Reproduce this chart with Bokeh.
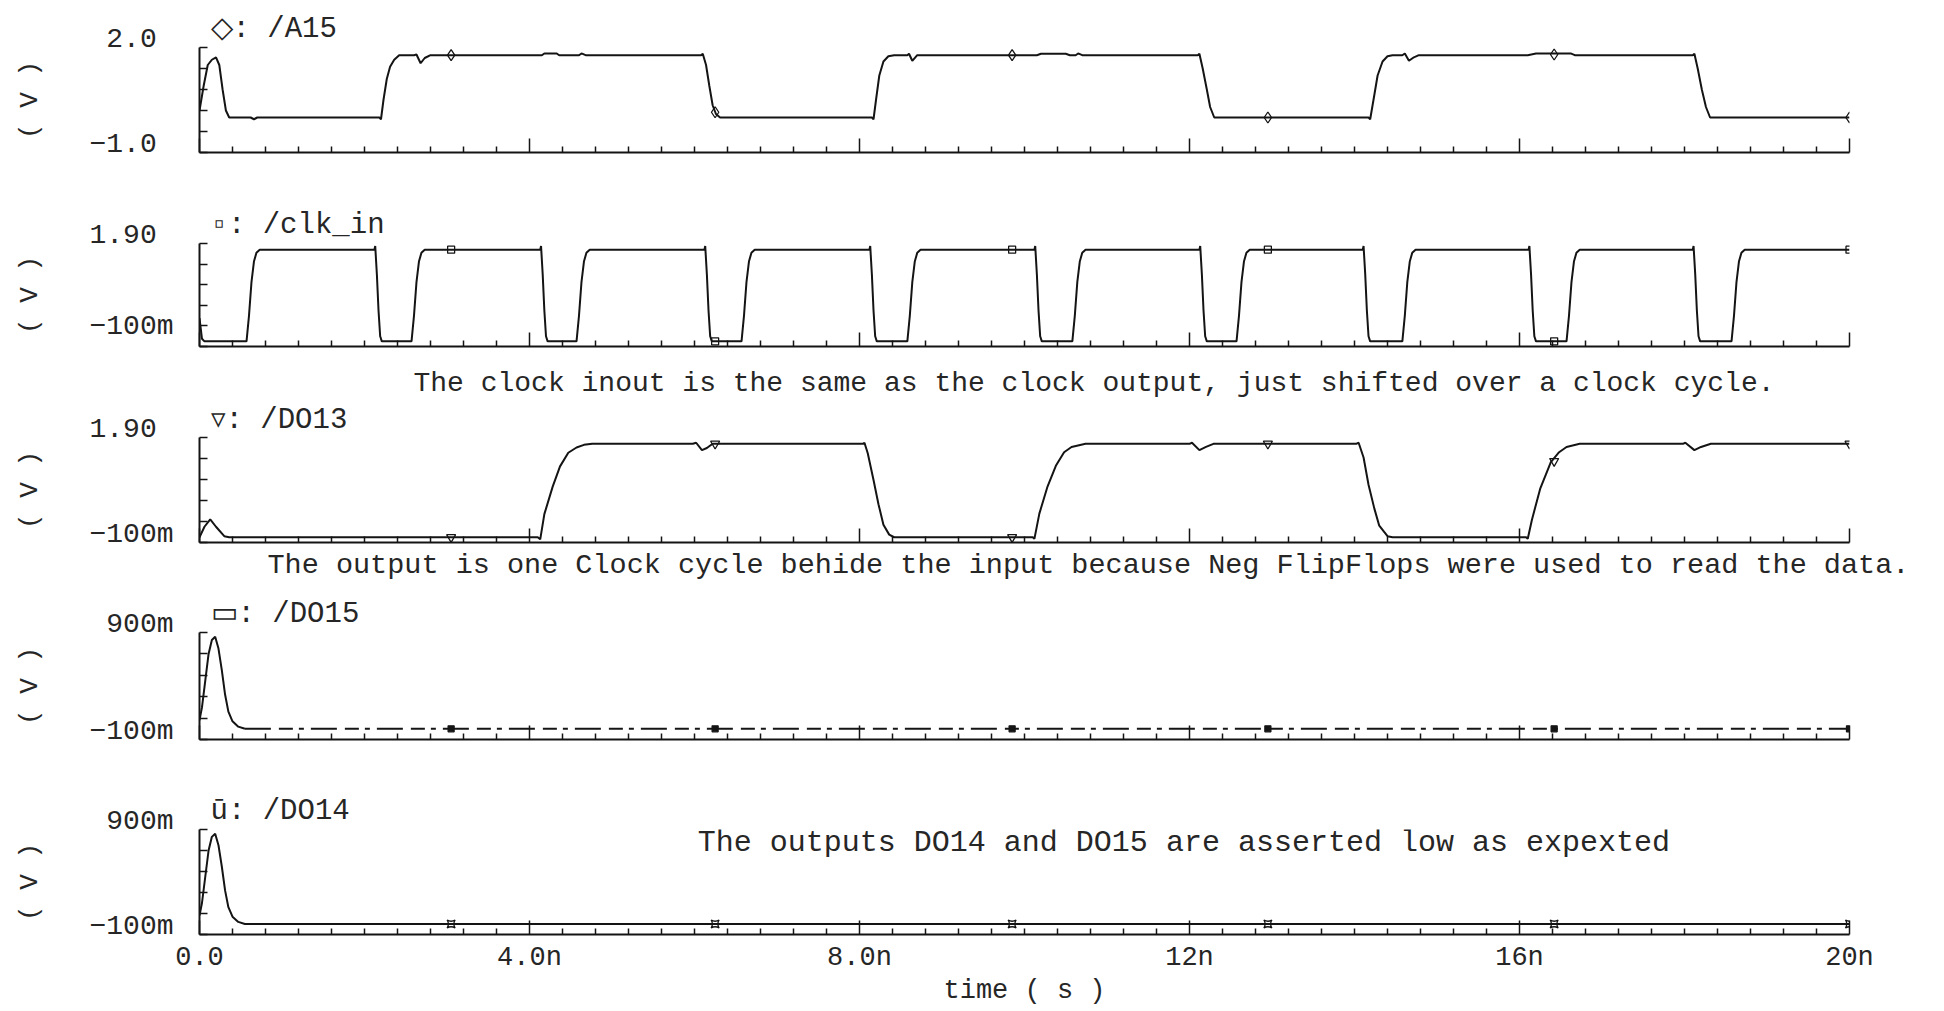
from bokeh.plotting import figure
from bokeh.layouts import column
from bokeh.models import Range1d, FixedTicker, CustomJSTickFormatter, Label, Title
from bokeh.embed import file_html
from bokeh.resources import INLINE

FONT = "Liberation Mono"
INK = "#141414"
TXT = "#262626"

# ---------------- data (time in ns, voltage in V) ----------------
time_ticks = [0, 4, 8, 12, 16, 20]
time_tick_labels = ["0.0", "4.0n", "8.0n", "12n", "16n", "20n"]
time_minor_ticks = [0.4, 0.8, 1.2, 1.6, 2.0, 2.4, 2.8, 3.2, 3.6,
                    4.4, 4.8, 5.2, 5.6, 6.0, 6.4, 6.8, 7.2, 7.6,
                    8.4, 8.8, 9.2, 9.6, 10.0, 10.4, 10.8, 11.2, 11.6,
                    12.4, 12.8, 13.2, 13.6, 14.0, 14.4, 14.8, 15.2, 15.6,
                    16.4, 16.8, 17.2, 17.6, 18.0, 18.4, 18.8, 19.2, 19.6]

marker_t = [3.05, 6.25, 9.85, 12.95, 16.42, 20.0]

a15_t = [0.00, 0.05, 0.10, 0.15, 0.20, 0.24, 0.28, 0.32, 0.36, 0.62, 0.66, 0.70,
         2.18, 2.20, 2.23, 2.27, 2.31, 2.36, 2.42,
         2.60, 2.63, 2.68, 2.73, 2.80,
         4.15, 4.18, 4.33, 4.36, 4.60, 4.63, 4.68,
         6.08, 6.10, 6.14, 6.18, 6.22, 6.26, 6.31,
         8.15, 8.17, 8.20, 8.24, 8.29, 8.35, 8.42,
         8.58, 8.60, 8.64, 8.70,
         10.15, 10.20, 10.50, 10.55, 10.62, 10.65, 10.70,
         12.10, 12.12, 12.16, 12.21, 12.25, 12.30,
         14.17, 14.19, 14.23, 14.28, 14.34, 14.40, 14.46,
         14.58, 14.61, 14.66, 14.72, 14.78,
         16.10, 16.20, 16.62, 16.67,
         18.10, 18.12, 18.16, 18.21, 18.26, 18.31, 20.00]
a15_v = [0.20, 0.90, 1.50, 1.65, 1.72, 1.50, 0.80, 0.20, 0.00, 0.00, -0.05, 0.00,
         0.00, -0.05, 0.50, 1.10, 1.45, 1.65, 1.78,
         1.78, 1.80, 1.55, 1.70, 1.78,
         1.78, 1.83, 1.83, 1.78, 1.78, 1.83, 1.78,
         1.78, 1.82, 1.50, 0.90, 0.35, 0.10, 0.00,
         0.00, -0.05, 0.50, 1.20, 1.60, 1.75, 1.78,
         1.78, 1.82, 1.62, 1.78,
         1.78, 1.82, 1.82, 1.78, 1.78, 1.83, 1.78,
         1.78, 1.82, 1.40, 0.80, 0.30, 0.00,
         0.00, -0.05, 0.50, 1.20, 1.60, 1.75, 1.78,
         1.78, 1.83, 1.62, 1.72, 1.78,
         1.78, 1.83, 1.83, 1.78,
         1.78, 1.82, 1.40, 0.80, 0.30, 0.00, 0.00]
a15_marker_v = [1.78, 0.15, 1.78, 0.00, 1.80, 0.00]

clk_t = [0.00, 0.03, 0.06,
         0.57, 0.60, 0.63, 0.66, 0.69, 0.73,
         2.12, 2.13, 2.15, 2.17, 2.19, 2.21,
         2.57, 2.60, 2.63, 2.66, 2.69, 2.73,
         4.13, 4.14, 4.16, 4.18, 4.20, 4.22,
         4.57, 4.60, 4.63, 4.66, 4.69, 4.73,
         6.12, 6.13, 6.15, 6.17, 6.19, 6.21,
         6.57, 6.60, 6.63, 6.66, 6.69, 6.73,
         8.12, 8.13, 8.15, 8.17, 8.19, 8.21,
         8.58, 8.61, 8.64, 8.67, 8.70, 8.74,
         10.12, 10.13, 10.15, 10.17, 10.19, 10.21,
         10.58, 10.61, 10.64, 10.67, 10.70, 10.74,
         12.12, 12.13, 12.15, 12.17, 12.19, 12.21,
         12.57, 12.60, 12.63, 12.66, 12.69, 12.73,
         14.10, 14.11, 14.13, 14.15, 14.17, 14.19,
         14.58, 14.61, 14.64, 14.67, 14.70, 14.74,
         16.11, 16.12, 16.14, 16.16, 16.18, 16.20,
         16.57, 16.60, 16.63, 16.66, 16.69, 16.73,
         18.10, 18.11, 18.13, 18.15, 18.17, 18.19,
         18.57, 18.60, 18.63, 18.66, 18.69, 18.73,
         20.00]
clk_v = [0.45, 0.05, 0.00,
         0.00, 0.50, 1.15, 1.55, 1.72, 1.78,
         1.78, 1.85, 1.30, 0.60, 0.10, 0.00,
         0.00, 0.50, 1.15, 1.55, 1.72, 1.78,
         1.78, 1.85, 1.30, 0.60, 0.10, 0.00,
         0.00, 0.50, 1.15, 1.55, 1.72, 1.78,
         1.78, 1.85, 1.30, 0.60, 0.10, 0.00,
         0.00, 0.50, 1.15, 1.55, 1.72, 1.78,
         1.78, 1.85, 1.30, 0.60, 0.10, 0.00,
         0.00, 0.50, 1.15, 1.55, 1.72, 1.78,
         1.78, 1.85, 1.30, 0.60, 0.10, 0.00,
         0.00, 0.50, 1.15, 1.55, 1.72, 1.78,
         1.78, 1.85, 1.30, 0.60, 0.10, 0.00,
         0.00, 0.50, 1.15, 1.55, 1.72, 1.78,
         1.78, 1.85, 1.30, 0.60, 0.10, 0.00,
         0.00, 0.50, 1.15, 1.55, 1.72, 1.78,
         1.78, 1.85, 1.30, 0.60, 0.10, 0.00,
         0.00, 0.50, 1.15, 1.55, 1.72, 1.78,
         1.78, 1.85, 1.30, 0.60, 0.10, 0.00,
         0.00, 0.50, 1.15, 1.55, 1.72, 1.78,
         1.78]
clk_marker_v = [1.78, 0.00, 1.78, 1.78, 0.00, 1.78]

do13_t = [0.00, 0.06, 0.13, 0.20, 0.30, 0.36,
          4.10, 4.13, 4.18, 4.28, 4.37, 4.47, 4.57, 4.66, 4.76,
          5.98, 6.02, 6.09, 6.15, 6.22,
          8.04, 8.06, 8.10, 8.17, 8.23, 8.29, 8.36, 8.42,
          10.10, 10.12, 10.18, 10.28, 10.38, 10.48, 10.57, 10.74,
          12.00, 12.03, 12.12, 12.20, 12.29,
          14.02, 14.05, 14.11, 14.17, 14.24, 14.30, 14.40, 14.46,
          16.08, 16.10, 16.15, 16.25, 16.38, 16.48, 16.57, 16.73,
          17.98, 18.01, 18.12, 18.20, 18.32, 20.00]
do13_v = [0.00, 0.20, 0.34, 0.20, 0.02, 0.00,
          0.00, -0.04, 0.44, 0.96, 1.35, 1.61, 1.71, 1.76, 1.78,
          1.78, 1.80, 1.66, 1.70, 1.78,
          1.78, 1.80, 1.60, 1.09, 0.63, 0.24, 0.05, 0.00,
          0.00, -0.03, 0.45, 0.97, 1.36, 1.62, 1.72, 1.78,
          1.78, 1.80, 1.66, 1.72, 1.78,
          1.78, 1.80, 1.52, 1.00, 0.55, 0.22, 0.02, 0.00,
          0.00, -0.03, 0.33, 0.92, 1.43, 1.62, 1.72, 1.78,
          1.78, 1.80, 1.66, 1.72, 1.78, 1.78]
do13_marker_v = [0.00, 1.78, 0.00, 1.78, 1.45, 1.78]

do15_t = [0.00, 0.03, 0.07, 0.11, 0.15, 0.19, 0.23, 0.27, 0.31, 0.35, 0.40, 0.47, 0.55, 20.00]
do15_v = [0.08, 0.20, 0.45, 0.70, 0.83, 0.86, 0.75, 0.55, 0.32, 0.16, 0.07, 0.02, 0.00, 0.00]
do15_marker_v = [0.00, 0.00, 0.00, 0.00, 0.00, 0.00]

do14_t = [0.00, 0.03, 0.07, 0.11, 0.15, 0.19, 0.23, 0.27, 0.31, 0.35, 0.40, 0.47, 0.55, 20.00]
do14_v = [0.08, 0.20, 0.45, 0.70, 0.83, 0.86, 0.75, 0.55, 0.32, 0.16, 0.07, 0.02, 0.00, 0.00]
do14_marker_v = [0.00, 0.00, 0.00, 0.00, 0.00, 0.00]

# value labels at the top / bottom of each voltage axis: (number, unit suffix)
panels = [
    dict(title="◇: /A15", t=a15_t, v=a15_v, mv=a15_marker_v, marker="diamond", msize=11, mfill=None,
         lo=-1.0, hi=2.0, yticks=[-1.0, -0.4, 0.2, 0.8, 1.4, 2.0], top_lab=("2.0", ""), bot_lab=("−1.0", ""),
         h=190, bt=47, bb=38, tso=3),
    dict(title="▫: /clk_in", t=clk_t, v=clk_v, mv=clk_marker_v, marker="square", msize=7, mfill=None,
         lo=-0.1, hi=1.9, yticks=[-0.1, 0.3, 0.7, 1.1, 1.5, 1.9], top_lab=("1.90", ""), bot_lab=("−100", "m"),
         h=167, bt=53, bb=11, tso=3),
    dict(title="▿: /DO13", t=do13_t, v=do13_v, mv=do13_marker_v, marker="inverted_triangle", msize=9, mfill=None,
         lo=-0.1, hi=1.9, yticks=[-0.1, 0.3, 0.7, 1.1, 1.5, 1.9], top_lab=("1.90", ""), bot_lab=("−100", "m"),
         h=233, bt=80, bb=48, tso=2),
    dict(title="▭: /DO15", t=do15_t, v=do15_v, mv=do15_marker_v, marker="square", msize=6, mfill=INK,
         lo=-0.1, hi=0.9, yticks=[-0.1, 0.1, 0.3, 0.5, 0.7, 0.9], top_lab=("900", "m"), bot_lab=("−100", "m"),
         h=195, bt=42, bb=46, tso=3, dashed_after=0.55),
    dict(title="ū: /DO14", t=do14_t, v=do14_v, mv=do14_marker_v, marker="square_pin", msize=8, mfill=None,
         lo=-0.1, hi=0.9, yticks=[-0.1, 0.1, 0.3, 0.5, 0.7, 0.9], top_lab=("900", "m"), bot_lab=("−100", "m"),
         h=225, bt=44, bb=76, tso=3),
]

# notes between panels: (panel index, side, text, pixel offset from time axis start, standoff, font size)
notes = [
    (2, "above", "The clock inout is the same as the clock output, just shifted over a clock cycle.", 214, 4, "28px"),
    (2, "below", "The output is one Clock cycle behide the input because Neg FlipFlops were used to read the data.", 68, 8, "28.5px"),
]
inner_note = (4, "The outputs DO14 and DO15 are asserted low as expexted", 6.04, "30px")

FS = "29px"
NBSP = "\u00a0"
blank = CustomJSTickFormatter(code="return ''")


def value_label(parts):
    num, unit = parts
    # the unit suffix hangs past the numbers' right edge, as on the original
    return num + (unit if unit else NBSP) + "\n"


figs = []
for i, c in enumerate(panels):
    last = (i == len(panels) - 1)
    p = figure(width=1928, height=c["h"], x_range=Range1d(0, 20), y_range=Range1d(c["lo"], c["hi"]),
               output_backend="svg", toolbar_location=None, title=None,
               min_border_left=199, min_border_right=79,
               min_border_top=c["bt"], min_border_bottom=c["bb"])
    p.outline_line_color = None
    p.background_fill_color = "white"
    p.border_fill_color = "white"
    p.grid.visible = False

    # panel title (closest to the frame)
    p.add_layout(Title(text=c["title"], align="left", offset=11, standoff=c["tso"], text_font=FONT,
                       text_font_size=FS, text_font_style="normal", text_color=TXT), "above")

    xa = p.xaxis[0]
    xa.ticker = FixedTicker(ticks=time_ticks, minor_ticks=time_minor_ticks)
    xa.axis_line_width = 2
    xa.axis_line_color = INK
    xa.major_tick_in = 14
    xa.major_tick_out = 0
    xa.minor_tick_in = 6
    xa.minor_tick_out = 0
    xa.major_tick_line_width = 1.5
    xa.minor_tick_line_width = 1.5
    xa.major_tick_line_color = INK
    xa.minor_tick_line_color = INK
    if last:
        xa.major_label_overrides = {tk: lb for tk, lb in zip(time_ticks, time_tick_labels)}
        xa.major_label_text_font = FONT
        xa.major_label_text_font_size = "27px"
        xa.major_label_text_color = TXT
        xa.major_label_standoff = 8
        xa.axis_label = "time ( s )"
        xa.axis_label_text_font = FONT
        xa.axis_label_text_font_size = "27px"
        xa.axis_label_text_font_style = "normal"
        xa.axis_label_text_color = TXT
        xa.axis_label_standoff = 0
    else:
        xa.formatter = blank
        xa.major_label_text_font_size = "1px"
        xa.major_label_standoff = 0

    ya = p.yaxis[0]
    ya.ticker = FixedTicker(ticks=c["yticks"], minor_ticks=[])
    ya.formatter = blank
    ya.major_label_overrides = {c["yticks"][-1]: value_label(c["top_lab"]),
                                c["yticks"][0]: value_label(c["bot_lab"])}
    ya.major_label_text_font = FONT
    ya.major_label_text_font_size = "28px"
    ya.major_label_text_line_height = 0.5
    ya.major_label_text_color = TXT
    ya.major_label_standoff = 26
    ya.axis_line_width = 2
    ya.axis_line_color = INK
    ya.major_tick_in = 8
    ya.major_tick_out = 0
    ya.major_tick_line_width = 1.5
    ya.major_tick_line_color = INK
    ya.axis_label = "( V )"
    ya.axis_label_text_font = FONT
    ya.axis_label_text_font_size = "26px"
    ya.axis_label_text_font_style = "normal"
    ya.axis_label_text_color = TXT
    ya.axis_label_standoff = 41

    # waveform
    if "dashed_after" in c:
        k = max(j for j, tt in enumerate(c["t"]) if tt <= c["dashed_after"])
        p.line(c["t"][:k + 1], c["v"][:k + 1], line_color=INK, line_width=2)
        p.line(c["t"][k:], c["v"][k:], line_color=INK, line_width=2, line_dash="26 8 14 6 5 7")
    else:
        p.line(c["t"], c["v"], line_color=INK, line_width=2)
    p.scatter(marker_t, c["mv"], marker=c["marker"], size=c["msize"], line_color=INK, line_width=1.3,
              fill_color=c["mfill"])

    for (pi_, side, txt, off, so, fs) in notes:
        if pi_ == i:
            p.add_layout(Title(text=txt, align="left", offset=off, standoff=so, text_font=FONT,
                               text_font_size=fs, text_font_style="normal", text_color=TXT), side)
    if inner_note[0] == i:
        p.add_layout(Label(x=inner_note[2], y=c["hi"], y_offset=4, text=inner_note[1], text_align="left",
                           text_baseline="top", text_font=FONT, text_font_size=inner_note[3],
                           text_color=TXT))
    figs.append(p)

layout = column(*figs, spacing=0)
open("out.html", "w").write(file_html(layout, INLINE))
